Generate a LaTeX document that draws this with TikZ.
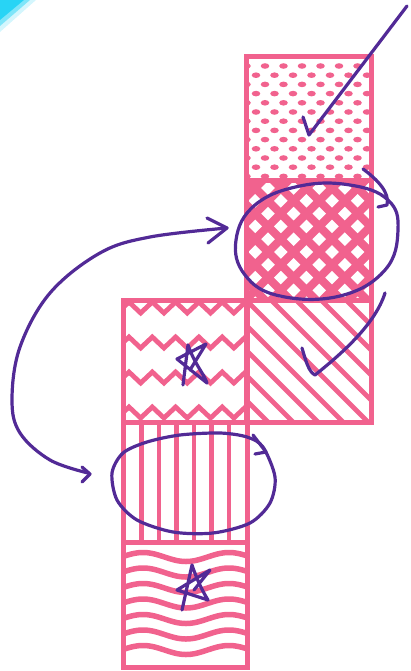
\documentclass[tikz,border=0pt]{standalone}
\definecolor{pk}{RGB}{241,98,142}
\definecolor{pu}{RGB}{82,42,150}
\definecolor{cy}{RGB}{40,212,245}
\tikzset{
  tileedge/.style={draw=pk, line width=5pt},
  pat/.style={draw=pk, line width=4.8pt},
  ink/.style={draw=pu, line width=3.2pt, line cap=round, line join=round}
}
\newcommand\dmd[2]{\fill[white] (#1,#2-6.8) -- (#1+6.8,#2) -- (#1,#2+6.8) -- (#1-6.8,#2) -- cycle;}
\begin{document}
\begin{tikzpicture}[x=1pt,y=-1pt]
\useasboundingbox (0,0) rectangle (411,671);
\fill[cy, opacity=0.2] (0,0) -- (36,0) -- (0,32) -- cycle;
\fill[cy, opacity=0.5] (0,0) -- (30,0) -- (0,26) -- cycle;
\fill[cy] (0,0) -- (24,0) -- (0,20) -- cycle;

% T1 dots
\begin{scope}
\clip (246,57) rectangle (371,180);
\foreach \j in {0,...,12} {
  \pgfmathsetmacro\yy{66+9.2*\j}
  \pgfmathsetmacro\xo{mod(\j,2)==0 ? 265 : 256}
  \foreach \i in {-1,...,6} \fill[pk] (\xo+18.5*\i, \yy) ellipse (4.3 and 2.8);
}
\end{scope}

% T2 crosshatch
\begin{scope}
\clip (246,180) rectangle (371,300);
\fill[pk] (246,180) rectangle (371,300);
\foreach \i in {-1,...,5} \foreach \j in {-1,...,5} {
  \dmd{268+25.6*\i}{188+25.6*\j}
  \dmd{255.2+25.6*\i}{200.8+25.6*\j}
}
\end{scope}

% T3 diagonal
\begin{scope}
\clip (246,300) rectangle (371,422);
\foreach \c in {-6,...,6} \draw[pat] (236+25*\c, 290) -- ++(150,150);
\end{scope}

% T4 zigzag
\begin{scope}
\clip (123,300) rectangle (247,422);
\foreach \yz in {302,337,372,407}
  \draw[pat, line join=miter] (105.7,\yz) \foreach \k in {0,...,6} { -- ++(11.65,11) -- ++(11.65,-11) };
\end{scope}

% T5 vertical
\foreach \xs in {141.5,159,176.5,194,211.5,229} \draw[pat] (\xs,422) -- (\xs,542);

% T6 waves
\begin{scope}
\clip (123,542) rectangle (247,667);
\foreach \yw in {557,572.5,588,603.5,619,634.5,650}
  \draw[pat, line width=5.5pt] plot[domain=118:252, samples=80, smooth] (\x, {\yw-4.5*cos(4.186*(\x-143))});
\end{scope}

% tile borders
\foreach \a/\b/\c/\d in {246/57/371/180, 246/180/371/300, 246/300/371/422, 123/300/247/422, 123/422/247/542, 123/542/247/667}
  \draw[tileedge] (\a,\b) rectangle (\c,\d);

% ink annotations
\draw[ink] (303,117) -- (309,135) -- (407,6);
\draw[ink] (363,169) .. controls (378,180) and (390,193) .. (387,205) -- (378,207);
\draw[ink] plot[smooth cycle, tension=0.7] coordinates {(236,240) (255,205) (300,186) (350,185) (388,200) (398,230) (385,270) (340,296) (280,296) (245,275)};
\draw[ink] (302,348) .. controls (306,362) and (309,372) .. (315,375) .. controls (340,355) and (375,325) .. (385,293);
\draw[ink] (183,385) -- (188,345) .. controls (195,365) and (203,372) .. (207,383) -- (177,359) -- (206,344) -- (190,370);
\draw[ink] (182,610) -- (192,565) .. controls (197,580) and (203,592) .. (208,600) -- (177,590) -- (210,570) -- (194,590);
\draw[ink] plot[smooth, tension=0.6] coordinates {(88,473) (50,460) (20,433) (12,400) (20,347) (50,293) (100,253) (150,237) (227,228)};
\draw[ink] (207,218) -- (227,228) -- (208,243);
\draw[ink] (82,467) -- (90,474) -- (82,482);
\draw[ink] plot[smooth cycle] coordinates {(112,473) (123,453) (147,442) (180,435) (220,433) (247,437) (263,447) (275,477) (270,503) (250,523) (213,533) (173,532) (137,520) (117,500)};
\draw[ink] (253,435) -- (266,452) -- (255,454);
\end{tikzpicture}
\end{document}
